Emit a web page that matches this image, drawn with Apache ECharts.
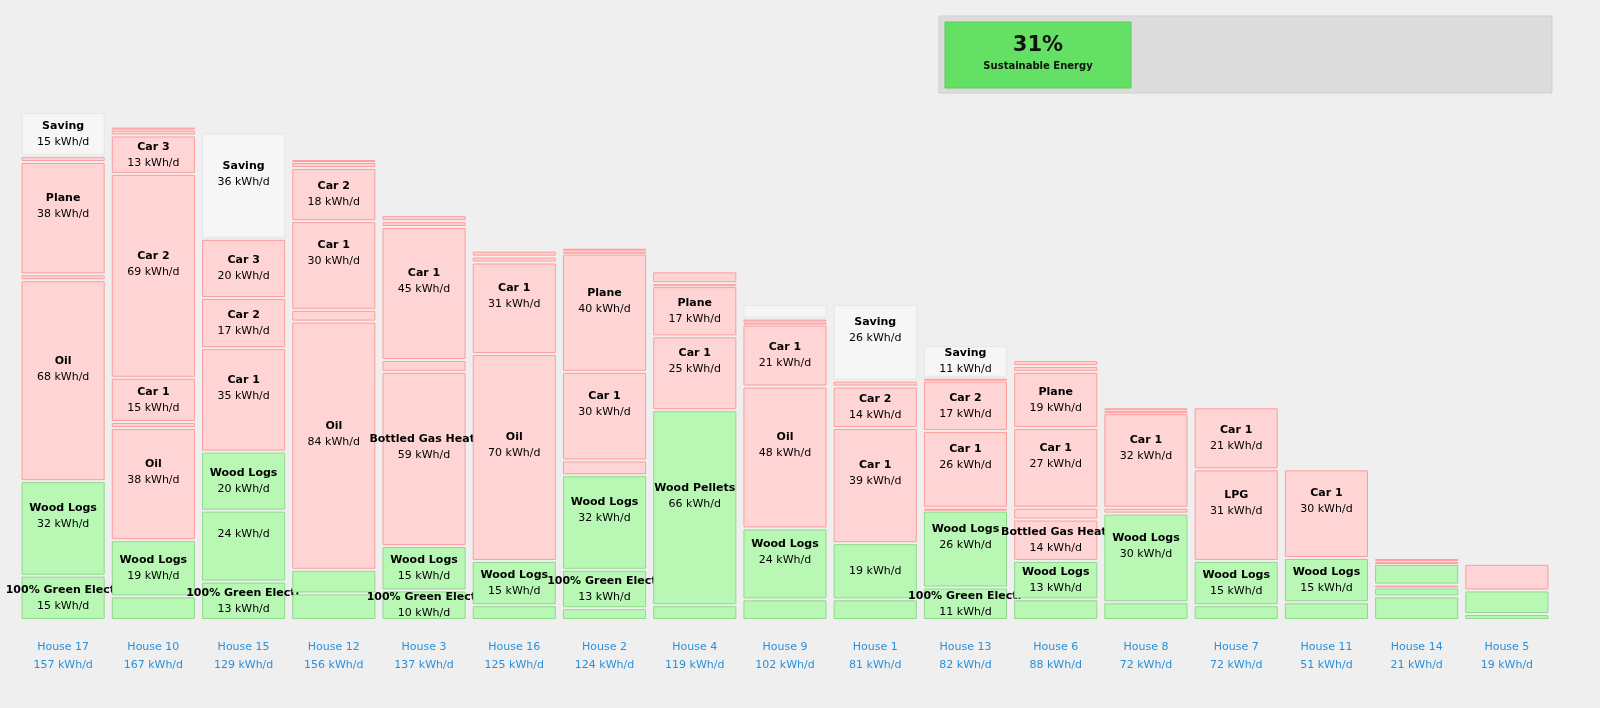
<!DOCTYPE html>
<html lang="en">
<head>
    <meta charset="UTF-8">
    <title>House energy</title>
    <script src="https://cdn.jsdelivr.net/npm/echarts@6/dist/echarts.min.js"></script>
    <style>
        html,body{margin:0;padding:0;background:#efefef;}
        #main{width:1600px;height:708px;}
    </style>
</head>
<body>
<div id="main"></div>
<script>
    // houses, sorted as in the picture
    var houses = ['House 17','House 10','House 15','House 12','House 3','House 16','House 2','House 4','House 9',
                  'House 1','House 13','House 6','House 8','House 7','House 11','House 14','House 5'];
    var totals = [157,167,129,156,137,125,124,119,102,81,82,88,72,72,51,21,19];
    var sustainable = 31;

    // segments bottom to top, per house: g = green, r = fossil, s = saving
    var segNames = [
        ['100% Green Electric','Wood Logs','Oil','','Plane','','Saving'],
        ['','Wood Logs','Oil','','Car 1','Car 2','Car 3','',''],
        ['100% Green Electric','','Wood Logs','Car 1','Car 2','Car 3','Saving'],
        ['','','Oil','','Car 1','Car 2','',''],
        ['100% Green Electric','Wood Logs','Bottled Gas Heating','','Car 1','',''],
        ['','Wood Logs','Oil','Car 1','',''],
        ['','100% Green Electric','Wood Logs','','Car 1','Plane','',''],
        ['','Wood Pellets','Car 1','Plane','',''],
        ['','Wood Logs','Oil','Car 1','','','Saving'],
        ['','','Car 1','Car 2','','Saving'],
        ['100% Green Electric','Wood Logs','','Car 1','Car 2','','Saving'],
        ['','Wood Logs','Bottled Gas Heating','','Car 1','Plane','',''],
        ['','Wood Logs','','Car 1','',''],
        ['','Wood Logs','LPG','Car 1'],
        ['','Wood Logs','Car 1'],
        ['','','','','',''],
        ['','','']
    ];
    var segValues = [
        [15,32,68,2,38,2,15],
        [8,19,38,2,15,69,13,2,1],
        [13,24,20,35,17,20,36],
        [9,8,84,4,30,18,2,1],
        [10,15,59,4,45,2,2],
        [5,15,70,31,2,2],
        [4,13,32,5,30,40,1,1],
        [5,66,25,17,1,4],
        [7,24,48,21,1,1,5],
        [7,19,39,14,2,26],
        [11,26,1,26,17,1,11],
        [7,13,14,4,27,19,2,2],
        [6,30,2,32,1,1],
        [5,15,31,21],
        [6,15,30],
        [8,3,1,7,1,1],
        [2,8,9]
    ];
    var segKinds = [
        ['g','g','r','r','r','r','s'],
        ['g','g','r','r','r','r','r','r','r'],
        ['g','g','g','r','r','r','s'],
        ['g','g','r','r','r','r','r','r'],
        ['g','g','r','r','r','r','r'],
        ['g','g','r','r','r','r'],
        ['g','g','g','r','r','r','r','r'],
        ['g','g','r','r','r','r'],
        ['g','g','r','r','r','r','s'],
        ['g','g','r','r','r','s'],
        ['g','g','r','r','r','r','s'],
        ['g','g','r','r','r','r','r','r'],
        ['g','g','r','r','r','r'],
        ['g','g','r','r'],
        ['g','g','r'],
        ['g','g','r','g','r','r'],
        ['g','g','r']
    ];

    var styles = {
        g: {fill:'#b9f7b4', stroke:'#8fd98b'},
        r: {fill:'#ffd4d4', stroke:'#ff9c9c'},
        s: {fill:'#f6f6f6', stroke:'#e6e6e6'}
    };

    var data = [];
    for (var i = 0; i < houses.length; i++) {
        var base = 0;
        for (var j = 0; j < segValues[i].length; j++) {
            var v = segValues[i][j];
            data.push([i, base, base + v, v, segKinds[i][j], segNames[i][j]]);
            base += v;
        }
    }

    function renderItem(params, api) {
        var idx = api.value(0);
        var p0 = api.coord([idx, api.value(1)]);
        var p1 = api.coord([idx, api.value(2)]);
        var band = api.size([1, 0])[0];
        var w = band * 0.91;
        var h = p0[1] - p1[1] - 3;
        if (h < 1) h = 1;
        var d = data[params.dataIndex];
        var st = styles[d[4]];
        var children = [{
            type: 'rect',
            shape: {x: p0[0] - w / 2, y: p1[1] + 1.5, width: w, height: h},
            style: {fill: st.fill, stroke: st.stroke, lineWidth: 1}
        }];
        if (h > 26) {
            var txt = (d[5] ? '{b|' + d[5] + '}\n' : '') + '{v|' + d[3] + ' kWh/d}';
            children.push({
                type: 'text',
                x: p0[0], y: p1[1] + 1.5 + h / 2 - (h > 60 ? 12 : 0),
                style: {
                    text: txt, align: 'center', verticalAlign: 'middle',
                    width: 118, overflow: 'truncate', ellipsis: '',
                    rich: {
                        b: {fontFamily: 'DejaVu Sans', fontSize: 11, fontWeight: 'bold', color: '#222', lineHeight: 16},
                        v: {fontFamily: 'DejaVu Sans', fontSize: 11, color: '#333', lineHeight: 16}
                    }
                }
            });
        }
        return {type: 'group', children: children};
    }

    var myChart = echarts.init(document.getElementById('main'));
    var option = {
        backgroundColor: '#efefef',
        animation: false,
        grid: {left: 18, right: 48, top: 100, bottom: 88},
        xAxis: {
            type: 'category',
            data: houses,
            axisLine: {show: false},
            axisTick: {show: false},
            axisLabel: {
                margin: 18,
                color: '#2b90d9',
                fontFamily: 'DejaVu Sans',
                fontSize: 11,
                lineHeight: 18,
                formatter: function (val, i) { return val + '\n' + totals[i] + ' kWh/d'; }
            }
        },
        yAxis: {type: 'value', min: 0, max: 176, show: false, splitLine: {show: false}},
        series: [{
            type: 'custom',
            renderItem: renderItem,
            encode: {x: 0, y: [1, 2]},
            data: data
        }],
        graphic: [
            {type: 'rect', shape: {x: 939, y: 16, width: 613, height: 77}, style: {fill: '#dcdcdc', stroke: '#cfcfcf'}},
            {type: 'rect', shape: {x: 945, y: 22, width: (1131 - 945) * sustainable / 31, height: 66}, style: {fill: '#64e064', stroke: '#5acc5a'}},
            {type: 'text', x: 1038, y: 46, style: {text: sustainable + '%', align: 'center', verticalAlign: 'middle', fontFamily: 'DejaVu Sans', fontSize: 21, fontWeight: 'bold', fill: '#111'}},
            {type: 'text', x: 1038, y: 66, style: {text: 'Sustainable Energy', align: 'center', verticalAlign: 'middle', fontFamily: 'DejaVu Sans', fontSize: 10, fontWeight: 'bold', fill: '#111'}}
        ]
    };
    myChart.setOption(option);
</script>
</body>
</html>
